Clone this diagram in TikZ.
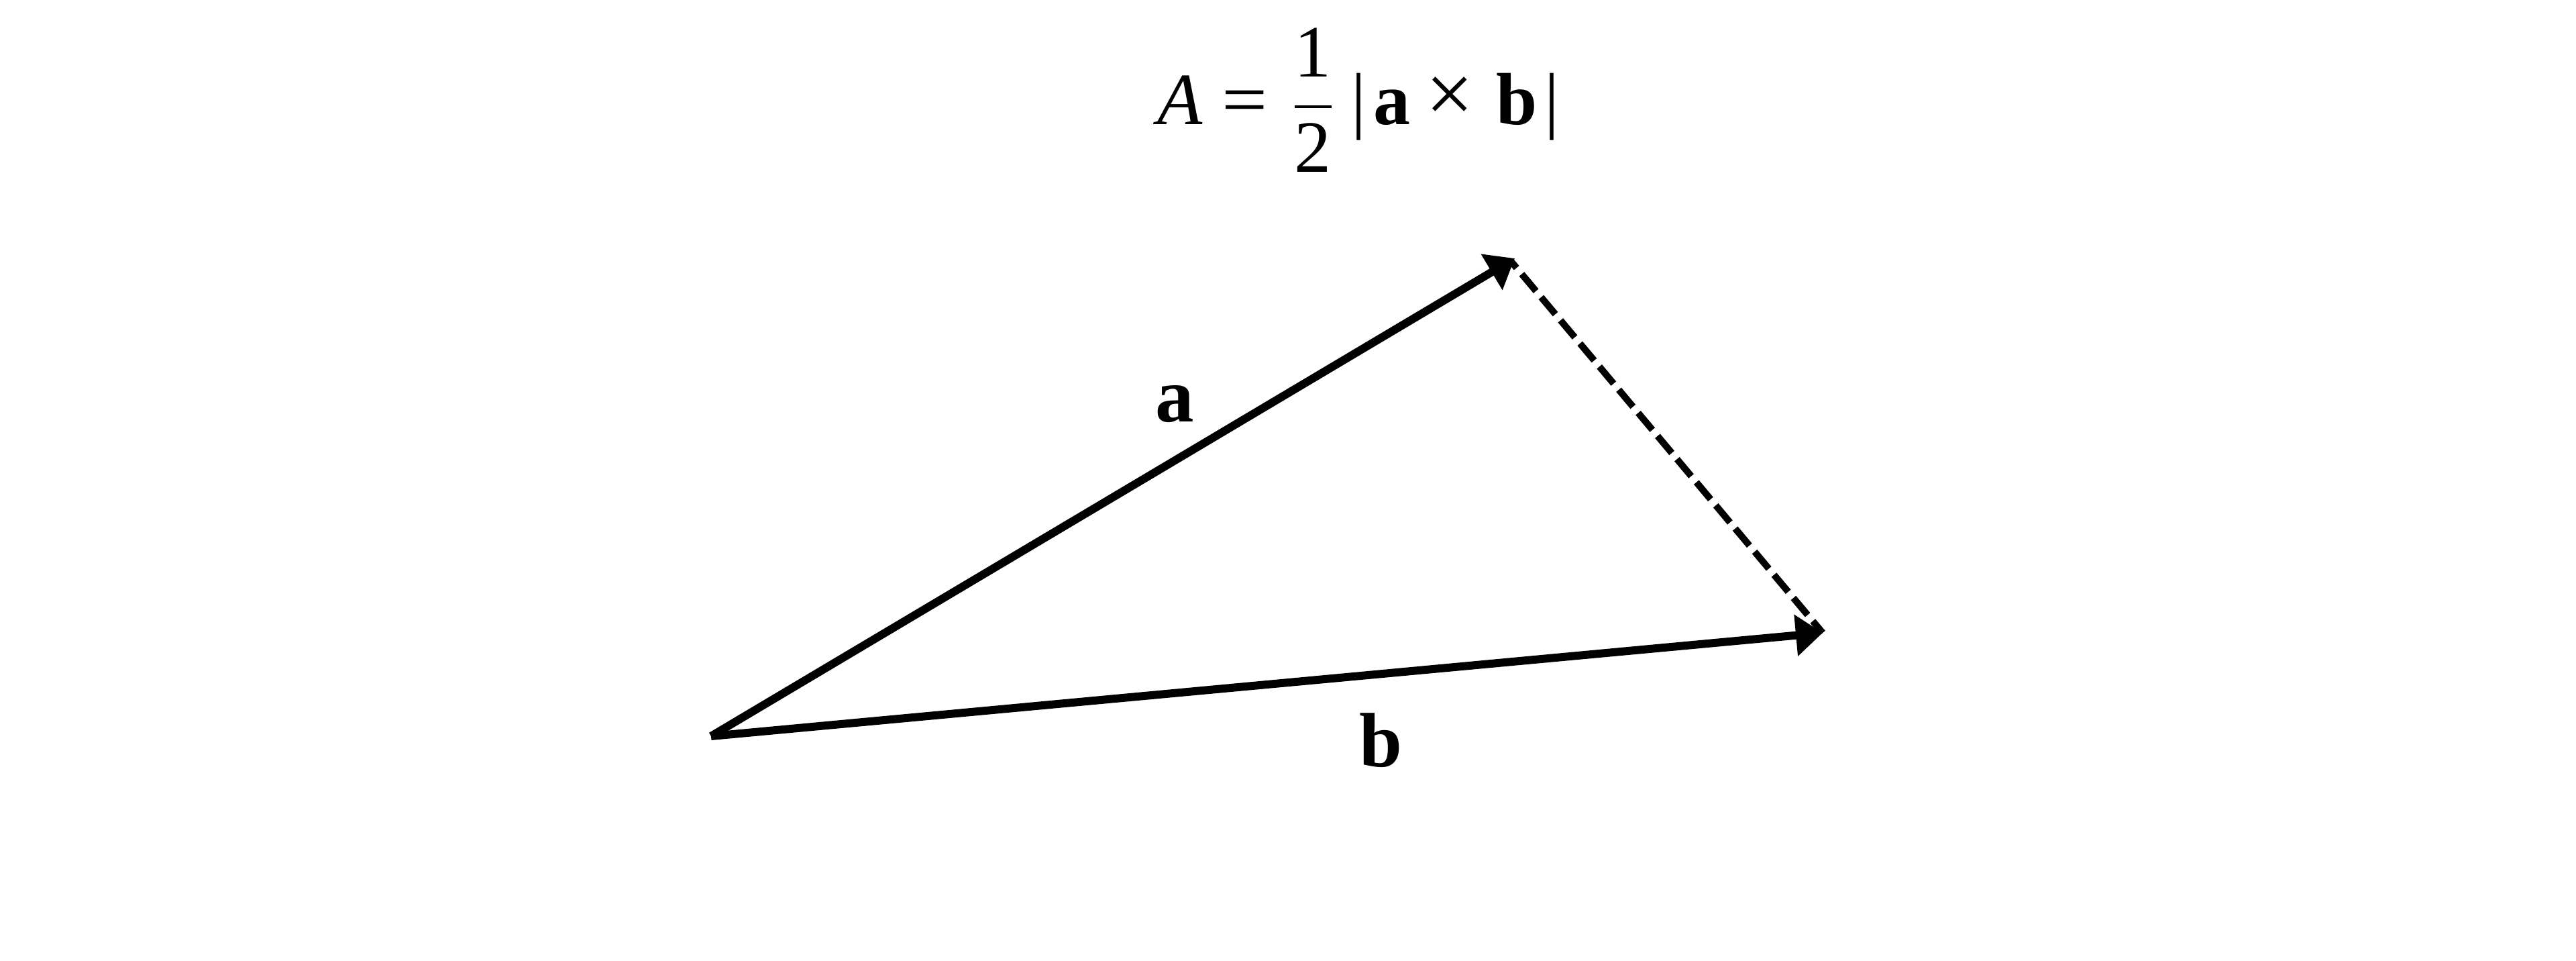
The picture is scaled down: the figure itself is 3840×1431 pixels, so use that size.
\documentclass[tikz,border=0pt]{standalone}
\usepackage{amsmath}
\usepackage{graphicx}
\usepackage{fontspec}
\setmainfont{Liberation Serif}
\usetikzlibrary{arrows.meta}
\begin{document}
\begin{tikzpicture}[x=0.2pt,y=-0.2pt,
  vec/.style={line width=2.4pt, -{Triangle[length=8pt,width=12pt]}},
  dashvec/.style={line width=2pt, dash pattern=on 6.6pt off 2.4pt, dash phase=4.2pt},
  lbl/.style={inner sep=0pt, anchor=base, font=\fontsize{23}{27}\selectfont\bfseries},
  eqn/.style={inner sep=0pt, anchor=base, font=\fontsize{22}{26}\selectfont}]
\useasboundingbox (0,0) rectangle (3840,1431);
\coordinate (O) at (1060,1097);
\coordinate (A) at (2258,385);
\coordinate (D) at (2253,390);
\coordinate (B) at (2717,943);
\draw[vec] (O) -- (A);
\draw[vec] (O) -- (B);
\draw[dashvec] (D) -- (B);
\node[lbl] (la) at (1751,628) {a};
\node[lbl] (lb) at (2058,1142) {b};
\node[eqn] (formula) at (2025,185) {$\displaystyle \text{\itshape A}\mathrel{\text{\scalebox{1.1}[1]{=}}}\kern0.05em\frac{\text{1}}{\text{2}}\kern0.21em\text{|}\kern0.1em\textbf{a}\mathbin{\text{\raisebox{0.02em}{\scalebox{1.15}{×}}}}\kern0.1em\textbf{b}\kern0.1em\text{|}$};
\end{tikzpicture}
\end{document}
